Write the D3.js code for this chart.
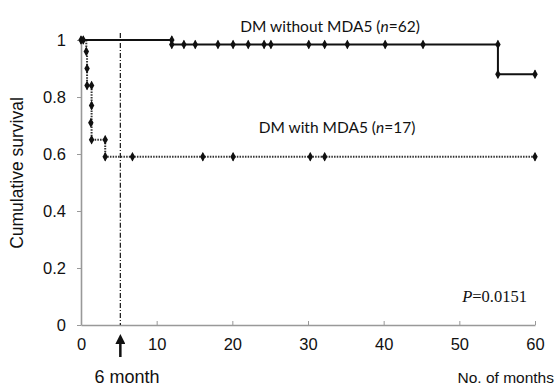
<!DOCTYPE html>
<html>
<head>
<meta charset="utf-8">
<script src="https://cdn.jsdelivr.net/npm/d3@7"></script>
<style>
  body { margin: 0; background: #fff; }
  svg { display: block; }
</style>
</head>
<body>
<svg id="km" width="557" height="388"></svg>
<script>
// step curves: [month, survival] vertices in drawing order
const withoutSteps = [[0, 1], [12, 1], [12, 0.984], [55.1, 0.984], [55.1, 0.88], [60, 0.88]];
const withoutMarks = [[0, 1], [0.3, 1], [12, 1], [12, 0.984], [13.6, 0.984], [15.1, 0.984], [18.1, 0.984], [20.1, 0.984],
  [22.1, 0.984], [24.2, 0.984], [25.1, 0.984], [30.1, 0.984], [32.2, 0.984], [35.2, 0.984], [40.2, 0.984],
  [45.2, 0.984], [55.1, 0.984], [55.1, 0.88], [60, 0.88]];

const withSteps = [[0, 1], [0.7, 1], [0.7, 0.96], [0.8, 0.96], [0.8, 0.84], [1.4, 0.84], [1.4, 0.65],
  [3.2, 0.65], [3.2, 0.59], [60, 0.59]];
const withMarks = [[0.7, 0.96], [0.8, 0.9], [0.8, 0.84], [1.4, 0.84], [1.4, 0.77], [1.3, 0.71], [1.4, 0.65],
  [3.2, 0.65], [3.2, 0.59], [6.8, 0.59], [16.1, 0.59], [20.1, 0.59], [30.3, 0.59], [32.2, 0.59], [60, 0.59]];

const xTicks = [0, 10, 20, 30, 40, 50, 60];
const yTicks = [0, 0.2, 0.4, 0.6, 0.8, 1];
const markMonth = 5.2;

const svg = d3.select("#km");
const x = d3.scaleLinear().domain([0, 60]).range([81, 535]);
const y = d3.scaleLinear().domain([0, 1]).range([325, 40]);

// axes
const xAxis = svg.append("g")
  .attr("transform", `translate(0,${y(0)})`)
  .call(d3.axisBottom(x).tickValues(xTicks).tickSizeInner(-4).tickSizeOuter(0).tickPadding(13).tickFormat(d3.format("d")));
const yAxis = svg.append("g")
  .attr("transform", `translate(${x(0)},0)`)
  .call(d3.axisLeft(y).tickValues(yTicks).tickSizeInner(4).tickSizeOuter(0).tickPadding(11)
    .tickFormat(d => d === 0 || d === 1 ? d3.format("d")(d) : d3.format(".1f")(d)));

[xAxis, yAxis].forEach(a => {
  a.select(".domain").attr("stroke", "#999").attr("stroke-width", 1.6);
  a.selectAll(".tick line").attr("stroke", "#999");
  a.selectAll(".tick text").attr("font-family", "Liberation Sans, Arial, sans-serif").attr("font-size", 16.5).attr("fill", "#111");
});

// 6-month reference line
svg.append("line")
  .attr("x1", x(markMonth)).attr("x2", x(markMonth))
  .attr("y1", y(1.025)).attr("y2", y(0))
  .attr("stroke", "#222").attr("stroke-width", 1.3)
  .attr("stroke-dasharray", "5,2,1,2");

const line = d3.line().x(d => x(d[0])).y(d => y(d[1]));

svg.append("path").datum(withSteps)
  .attr("d", line).attr("fill", "none")
  .attr("stroke", "#333").attr("stroke-width", 2).attr("stroke-dasharray", "1.5,1.2");

svg.append("path").datum(withoutSteps)
  .attr("d", line).attr("fill", "none")
  .attr("stroke", "#111").attr("stroke-width", 2);

const diamond = d3.symbol().type(d3.symbolDiamond).size(26);
function marks(data) {
  const g = svg.append("g");
  g.selectAll("path").data(data).enter().append("path")
    .attr("transform", d => `translate(${x(d[0])},${y(d[1])})`)
    .attr("d", diamond).attr("fill", "#111");
  g.selectAll("line").data(data).enter().append("line")
    .attr("x1", d => x(d[0])).attr("x2", d => x(d[0]))
    .attr("y1", d => y(d[1]) - 4).attr("y2", d => y(d[1]) + 4)
    .attr("stroke", "#111").attr("stroke-width", 1);
}
marks(withoutMarks);
marks(withMarks);

// arrow under axis
svg.append("defs").append("marker")
  .attr("id", "ah").attr("viewBox", "0 0 10 10").attr("refX", 5).attr("refY", 5)
  .attr("markerWidth", 4).attr("markerHeight", 4).attr("orient", "auto")
  .append("path").attr("d", "M0,0L10,5L0,10z").attr("fill", "#111");
svg.append("line")
  .attr("x1", x(markMonth)).attr("x2", x(markMonth))
  .attr("y1", 357).attr("y2", 339)
  .attr("stroke", "#111").attr("stroke-width", 2.5)
  .attr("marker-end", "url(#ah)");

const sans = "Liberation Sans, Arial, sans-serif";
const label = "Lato, Open Sans, sans-serif";

svg.append("text").attr("x", 127).attr("y", 383)
  .attr("text-anchor", "middle").attr("font-family", sans).attr("font-size", 18).attr("fill", "#111")
  .text("6 month");

svg.append("text").attr("x", 554).attr("y", 383)
  .attr("text-anchor", "end").attr("font-family", sans).attr("font-size", 15.5).attr("fill", "#111")
  .text("No. of months");

svg.append("text")
  .attr("transform", "translate(23,173) rotate(-90)")
  .attr("text-anchor", "middle").attr("font-family", sans).attr("font-size", 17.5).attr("fill", "#111")
  .text("Cumulative survival");

const t1 = svg.append("text").attr("x", 330).attr("y", 32)
  .attr("text-anchor", "middle").attr("font-family", label).attr("font-size", 15.5).attr("fill", "#111");
t1.append("tspan").text("DM without MDA5 (");
t1.append("tspan").attr("font-style", "italic").text("n");
t1.append("tspan").text("=62)");

const t2 = svg.append("text").attr("x", 337).attr("y", 133)
  .attr("text-anchor", "middle").attr("font-family", label).attr("font-size", 15.5).attr("fill", "#111");
t2.append("tspan").text("DM with MDA5 (");
t2.append("tspan").attr("font-style", "italic").text("n");
t2.append("tspan").text("=17)");

const t3 = svg.append("text").attr("x", 527).attr("y", 302)
  .attr("text-anchor", "end").attr("font-family", "Liberation Serif, Times New Roman, serif").attr("font-size", 16.5).attr("fill", "#111");
t3.append("tspan").attr("font-style", "italic").text("P");
t3.append("tspan").text("=0.0151");
</script>
</body>
</html>
